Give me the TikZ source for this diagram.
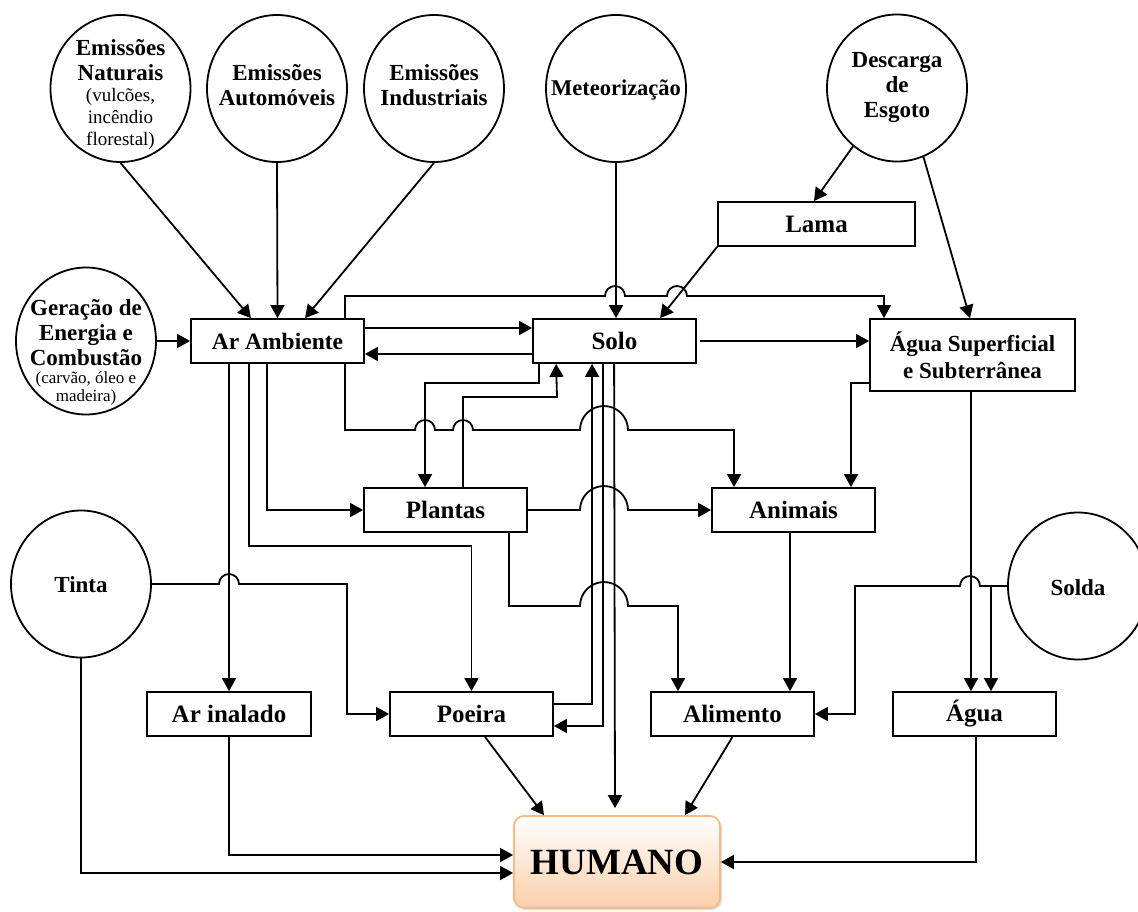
\documentclass[tikz,border=0pt]{standalone}
\usepackage{fontspec}
\setmainfont{Liberation Serif}
\usetikzlibrary{arrows.meta,shapes.geometric,shadows,calc}
\definecolor{hborder}{RGB}{247,185,134}
\definecolor{hfill}{RGB}{251,207,170}
\begin{document}
\begin{tikzpicture}[x=1pt,y=-1pt,
  ln/.style={line width=1.8pt},
  arr/.style={line width=1.8pt,-{Triangle[length=13pt,width=14pt]}},
  stage/.style={draw,line width=1.8pt,minimum width=163pt,minimum height=44pt,inner sep=0pt,
    font=\fontsize{25}{28}\selectfont\bfseries,align=center},
  src/.style={draw,ellipse,line width=1.8pt,minimum width=140pt,minimum height=147pt,inner sep=0pt},
  srctext/.style={font=\fontsize{23}{25}\selectfont\bfseries,align=center,inner sep=0pt},
  srcnote/.style={font=\fontsize{19}{22}\selectfont,align=center,inner sep=0pt}]
\useasboundingbox (0,0) rectangle (1138,911);

% sources
\node[src] (nat) at (120.5,88.5) {};
\node[srctext] at (120.5,60.5) {Emissões\\Naturais};
\node[srcnote] at (120.5,118.5) {(vulcões,\\incêndio\\florestal)};
\node[src] (auto) at (277,88.5) {};
\node[srctext] at (277,85) {Emissões\\Automóveis};
\node[src] (ind) at (434,88.5) {};
\node[srctext] at (434,85) {Emissões\\Industriais};
\node[src] (met) at (616,88.5) {};
\node[srctext,font=\fontsize{22.5}{25}\selectfont\bfseries] at (616,90) {Meteorização};
\node[src] (desc) at (897,88) {};
\node[srctext] at (897,88) {Descarga\\de\\Esgoto};
\node[src] (ger) at (86,341) {};
\node[srctext] at (86,332.5) {Geração de\\Energia e\\Combustão};
\node[srcnote,font=\fontsize{17}{18}\selectfont] at (86,388) {(carvão, óleo e\\madeira)};
\node[src] (tinta) at (81,584) {};
\node[srctext] at (81,585) {Tinta};
\node[src] (solda) at (1078,586) {};
\node[srctext] at (1078,588) {Solda};

% boxes
\node[stage,minimum width=173pt,font=\fontsize{23.5}{25}\selectfont\bfseries] (aramb) at (277.5,341) {Ar Ambiente};
\node[stage] (solo) at (614.5,341) {Solo};
\node[stage,minimum width=205pt,minimum height=72pt,font=\fontsize{23}{27}\selectfont\bfseries] (aguasup) at (972.5,355) {Água Superficial\\e Subterrânea};
\node[stage,minimum width=197pt] (lama) at (816.5,224) {Lama};
\node[stage] (plantas) at (445.5,510) {Plantas};
\node[stage] (animais) at (793.5,510) {Animais};
\node[stage,minimum width=164pt] (arinal) at (229,714) {Ar inalado};
\node[stage] (poeira) at (471.5,714) {Poeira};
\node[stage] (alim) at (732.5,714) {Alimento};
\node[stage] (agua) at (974.5,714) {Água};
\node[draw=hborder,line width=1.8pt,rounded corners=10pt,top color=white,bottom color=hfill,
  minimum width=206pt,minimum height=92pt,inner sep=0pt,font=\fontsize{37}{40}\selectfont\bfseries,
  drop shadow={opacity=0.25,shadow xshift=2pt,shadow yshift=-2pt}] (hum) at (617,862) {HUMANO};

% emissions to ambient air
\draw[arr] (nat.south) -- ([xshift=-26.5pt]aramb.north);
\draw[arr] (auto.south) -- (aramb.north);
\draw[arr] (ind.south) -- ([xshift=27.5pt]aramb.north);
\draw[arr] (ger.east) -- (aramb.west);

% air <-> soil
\draw[arr] ([yshift=13pt]aramb.east) -- ([yshift=13pt]solo.west);
\draw[arr] ([yshift=-13pt]solo.west) -- ([yshift=-13pt]aramb.east);

% air to surface water (top route with hops)
\draw[arr] ([xshift=67.5pt]aramb.north) |- (605,296)
  arc[start angle=180,end angle=0,radius=10pt] -- (667,296)
  arc[start angle=180,end angle=0,radius=10pt] -- (884,296)
  -- ([xshift=-88.5pt]aguasup.north);

\draw[arr] (met.south) -- (met.south |- solo.north);
\draw[arr] (desc.233) -- ([xshift=-2.5pt]lama.north);
\draw[arr] (desc.291) -- ([xshift=-2.5pt]aguasup.north);
\draw[arr] (lama.south west) -- ([xshift=45.5pt]solo.north);
\draw[arr] ([xshift=3pt]solo.east) -- (aguasup.west |- solo.east);

% soil <-> plants
\draw[arr] ([xshift=7pt]solo.south west) -- ++(0,19) -| ([xshift=-20.5pt]plantas.north);
\draw[arr] ([xshift=17.5pt]plantas.north) |- (557,397) -- ([xshift=24pt]solo.south west);

% air to animals
\draw[arr] ([xshift=67.5pt]aramb.south) |- (415,430)
  arc[start angle=180,end angle=0,radius=10pt] -- (453,430)
  arc[start angle=180,end angle=0,radius=10pt] -- (580,430)
  arc[start angle=180,end angle=0,radius=24pt] -- (734,430)
  -- ([xshift=-59.5pt]animais.north);
\draw[arr] ([yshift=-28pt]aguasup.west) -| ([xshift=57.5pt]animais.north);

% air to plants, dust, inhaled air
\draw[arr] ([xshift=-10.5pt]aramb.south) |- (plantas.west);
\draw[arr] ([xshift=-28.5pt]aramb.south) |- (471.5,546) -- (poeira.north);
\draw[arr] ([xshift=-48.5pt]aramb.south) -- (arinal.north);

% plants
\draw[arr] (plantas.east) -- (580,510) arc[start angle=180,end angle=0,radius=24pt] -- (animais.west);
\draw[arr] ([xshift=63.5pt]plantas.south) |- (580,606)
  arc[start angle=180,end angle=0,radius=24pt] -- (678,606)
  -- ([xshift=-54.5pt]alim.north);

% soil <-> dust, soil to human
\draw[arr] ([yshift=10pt]poeira.east) -| ([xshift=60pt]solo.south west);
\draw[arr] ([xshift=71pt]solo.south west) |- ([yshift=-12pt]poeira.east);
\draw[arr] ([xshift=82pt]solo.south west) -- ([xshift=-2pt,yshift=7pt]hum.north);

% paint
\draw[arr] (tinta.east) -- (219,584) arc[start angle=180,end angle=0,radius=10pt] -- (347,584) |- (poeira.west);
\draw[arr] (tinta.south) |- ([yshift=-11pt]hum.west);
\draw[arr] (arinal.south) |- ([yshift=7pt]hum.west);

% to human
\draw[arr] ([xshift=13.5pt]poeira.south) -- ([xshift=-73pt]hum.north);
\draw[arr] (alim.south) -- ([xshift=68pt]hum.north);
\draw[arr] ([xshift=-3.5pt]animais.south) -- ([xshift=57.5pt]alim.north);
\draw[arr] ([xshift=-1.5pt]aguasup.south) -- ([xshift=-3.5pt]agua.north);

% welding
\coordinate (sj) at (991,586);
\draw[arr] (solda.west) -- (980,586) arc[start angle=0,end angle=180,radius=10pt] -- (855,586) |- (alim.east);
\draw[arr] (sj) -- (sj |- agua.north);
\draw[arr] ([xshift=1.5pt]agua.south) |- (hum.east);
\end{tikzpicture}
\end{document}
